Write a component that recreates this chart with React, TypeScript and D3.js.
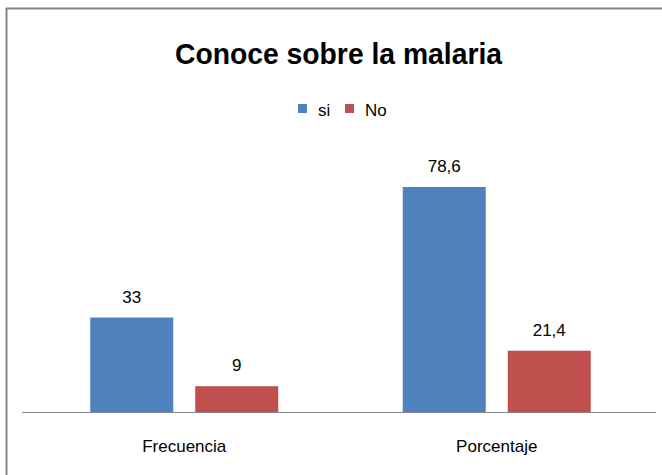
import React from "react";
import * as d3 from "d3";

const categories = ["Frecuencia", "Porcentaje"];
const seriesNames = ["si", "No"];
const siValues = [33, 78.6];
const noValues = [9, 21.4];
const valueLabels = [["33", "78,6"], ["9", "21,4"]];
const colors = ["#4F81BD", "#C0504D"];
const title = "Conoce sobre la malaria";

const W = 662;
const H = 475;
const FONT = "'Liberation Sans Narrow', 'Liberation Sans', Arial, sans-serif";

export default function App() {
  const plotLeft = 28;
  const plotRight = 653;
  const baseY = 412;
  const x0 = d3.scaleBand<string>().domain(categories).range([plotLeft, plotRight]).paddingInner(0).paddingOuter(0);
  const groupW = 188;
  const x1 = d3.scaleBand<string>().domain(seriesNames).range([0, groupW]).paddingInner(22 / 105).paddingOuter(0);
  const y = d3.scaleLinear().domain([0, 90]).range([baseY, baseY - 2.863 * 90]);
  const series = [siValues, noValues];

  return (
    <div style={{ position: "absolute", left: 0, top: 0 }}>
      <svg width={W} height={H} style={{ display: "block" }}>
        <rect x={0} y={0} width={W} height={H} fill="#fff" />
        <rect x={6.5} y={8.5} width={W + 10} height={H + 10} fill="none" stroke="#868686" strokeWidth={2} />
        <text
          x={175}
          y={64}
          textLength={327}
          lengthAdjust="spacingAndGlyphs"
          fontFamily={FONT}
          fontWeight="bold"
          fontSize={30}
          fill="#000"
        >
          {title}
        </text>
        {seriesNames.map((s, i) => {
          const lx = i === 0 ? 298 : 345;
          return (
            <g key={s}>
              <rect x={lx} y={104} width={9} height={9} fill={colors[i]} />
              <text x={lx + 20} y={116} fontFamily={FONT} fontSize={17} fill="#000">{s}</text>
            </g>
          );
        })}
        {categories.map((c, ci) => {
          const gx = (x0(c) ?? 0) + (x0.bandwidth() - groupW) / 2;
          return (
            <g key={c}>
              {seriesNames.map((s, si) => {
                const v = series[si][ci];
                const bx = gx + (x1(s) ?? 0);
                const bw = x1.bandwidth();
                return (
                  <g key={s}>
                    <rect x={bx} y={y(v)} width={bw} height={baseY - y(v)} fill={colors[si]} />
                    <text x={bx + bw / 2} y={y(v) - 15} textAnchor="middle" fontFamily={FONT} fontSize={17} fill="#000">
                      {valueLabels[si][ci]}
                    </text>
                  </g>
                );
              })}
              <text x={(x0(c) ?? 0) + x0.bandwidth() / 2} y={452} textAnchor="middle" fontFamily={FONT} fontSize={17} fill="#000">
                {c}
              </text>
            </g>
          );
        })}
        <line x1={22} x2={656} y1={baseY + 0.5} y2={baseY + 0.5} stroke="#868686" strokeWidth={1} />
      </svg>
    </div>
  );
}
